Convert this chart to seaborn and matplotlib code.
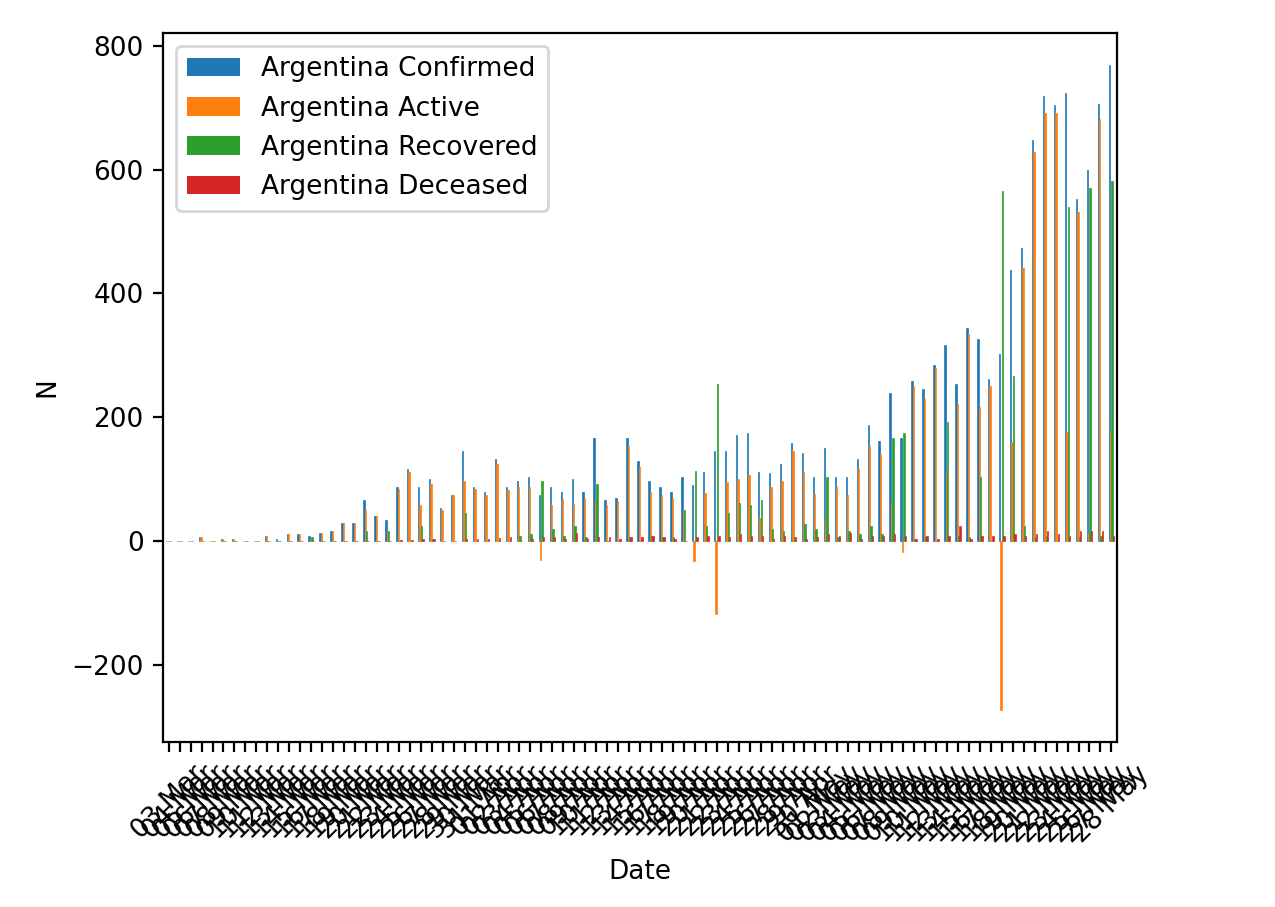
import pandas as pd
import matplotlib
matplotlib.use("Agg")
import matplotlib.pyplot as plt
import seaborn as sns

# daily new cases, Argentina, 03 Mar - 28 May
dates = pd.date_range("2020-03-03", "2020-05-28", freq="D").strftime("%d %b").tolist()

confirmed = [1, 0, 1, 6, 1, 3, 4, 1, 1, 9, 3, 11, 11, 9, 14, 17, 30, 30, 67, 41,
             35, 87, 116, 87, 101, 54, 75, 146, 88, 79, 132, 88, 98, 103, 74, 87, 80, 100, 80, 167,
             66, 69, 166, 129, 98, 88, 80, 103, 90, 112, 145, 146, 172, 174, 112, 110, 124, 158, 143, 104,
             150, 103, 104, 133, 188, 162, 240, 166, 258, 245, 285, 316, 254, 345, 327, 262, 303, 438, 474, 648,
             719, 704, 724, 553, 600, 706, 769]
active = [1, 0, 1, 6, 1, 3, 4, 1, 1, 9, 1, 11, 11, 2, 14, 17, 30, 30, 50, 41,
          17, 84, 112, 58, 92, 51, 74, 98, 85, 75, 125, 82, 87, 88, -30, 59, 68, 60, 70, 68,
          59, 65, 153, 120, 79, 74, 70, 49, -32, 78, -117, 95, 100, 107, 38, 87, 98, 145, 111, 77,
          33, 87, 74, 117, 154, 141, 62, -17, 250, 229, 279, 113, 222, 335, 217, 250, -272, 160, 441, 629,
          692, 691, 176, 532, 12, 682, 180]
recovered = [0, 0, 0, 0, 0, 0, 0, 0, 0, 0, 1, 0, 0, 7, 0, 0, 0, 0, 16, 0,
             17, 0, 0, 25, 4, 1, 0, 45, 0, 0, 1, 0, 9, 12, 97, 20, 8, 25, 7, 92,
             1, 1, 7, 1, 9, 7, 7, 51, 114, 25, 254, 45, 61, 58, 66, 19, 16, 7, 28, 20,
             104, 6, 17, 12, 25, 12, 167, 175, 4, 6, 1, 193, 9, 6, 103, 1, 566, 267, 24, 7,
             9, 1, 540, 6, 570, 8, 582]
deceased = [0, 0, 0, 0, 1, 0, 0, 0, 0, 0, 1, 0, 0, 0, 0, 0, 0, 0, 1, 0,
            1, 2, 2, 4, 4, 1, 1, 4, 3, 4, 5, 6, 1, 3, 7, 7, 4, 14, 3, 7,
            6, 3, 7, 7, 9, 7, 3, 1, 7, 9, 8, 6, 11, 9, 8, 4, 9, 7, 4, 7,
            12, 9, 14, 4, 9, 9, 11, 8, 4, 9, 4, 9, 24, 3, 8, 9, 9, 11, 9, 12,
            17, 12, 8, 16, 17, 16, 8]

df = pd.DataFrame({
    "Date": dates,
    "Argentina Confirmed": confirmed,
    "Argentina Active": active,
    "Argentina Recovered": recovered,
    "Argentina Deceased": deceased,
})
long_df = df.melt(id_vars="Date", var_name="series", value_name="N")

plt.rcParams["font.size"] = 9.5

fig = plt.figure(figsize=(6.375, 4.535), dpi=200)
ax = fig.add_axes([0.128, 0.182, 0.748, 0.782])

sns.barplot(data=long_df, x="Date", y="N", hue="series", ax=ax,
            width=0.5, saturation=1, errorbar=None,
            palette=["#1f77b4", "#ff7f0e", "#2ca02c", "#d62728"])

# thin same-colour edge so the narrow bars read like the original
for p in ax.patches:
    p.set_edgecolor(p.get_facecolor())
    p.set_linewidth(0.25)

handles, labels = ax.get_legend_handles_labels()
ax.legend(handles, labels, loc="upper left")
for h in ax.get_legend().get_patches():
    h.set_linewidth(0)
ax.set_xlim(-0.5, len(dates) - 0.5)
ax.tick_params(axis="x", labelrotation=45)
ax.set_xlabel("Date")
ax.set_ylabel("N")

fig.savefig("out.png", dpi=200)
